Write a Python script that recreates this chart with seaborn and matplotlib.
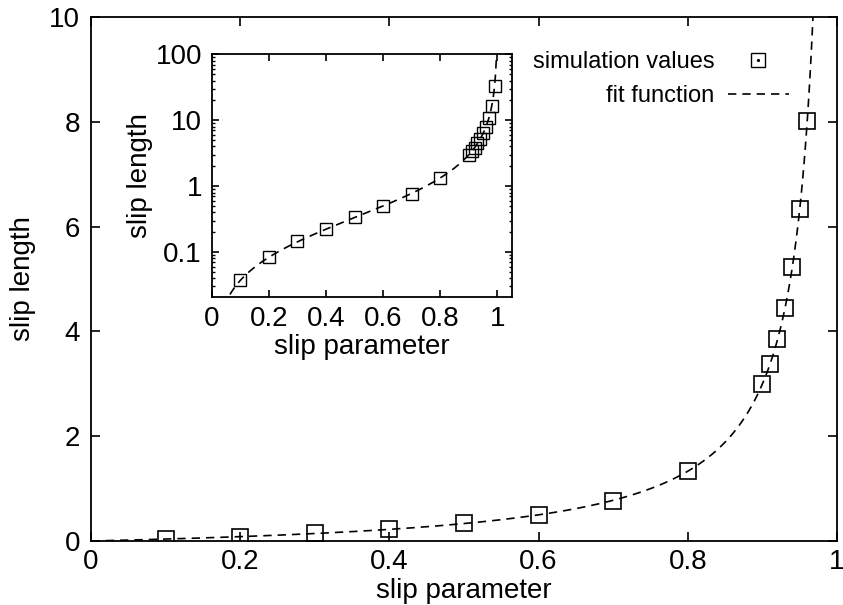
import numpy as np
import pandas as pd
import matplotlib
matplotlib.use("Agg")
import matplotlib.pyplot as plt
from matplotlib.lines import Line2D
import seaborn as sns

# ---- data ----
slip_param = [0.1, 0.2, 0.3, 0.4, 0.5, 0.6, 0.7, 0.8,
              0.90, 0.91, 0.92, 0.93, 0.94, 0.95, 0.96, 0.97, 0.98, 0.99]
slip_length = [0.037, 0.083, 0.145, 0.223, 0.336, 0.50, 0.77, 1.33,
               3.00, 3.37, 3.85, 4.44, 5.22, 6.33, 8.01, 10.8, 16.3, 33.0]
fit_coeff = 0.333            # fit: b = a * s / (1 - s)

main_xticks = [0, 0.2, 0.4, 0.6, 0.8, 1]
main_xticklabels = ["0", "0.2", "0.4", "0.6", "0.8", "1"]
main_yticks = [0, 2, 4, 6, 8, 10]
main_yticklabels = ["0", "2", "4", "6", "8", "10"]
inset_yticks = [0.1, 1, 10, 100]
inset_yticklabels = ["0.1", "1", "10", "100"]

sim = pd.DataFrame({"s": slip_param, "b": slip_length})
s_fit = np.linspace(0.0005, 0.9995, 4000)
fit = pd.DataFrame({"s": s_fit, "b": fit_coeff * s_fit / (1 - s_fit)})

sns.set_theme(style="ticks")
plt.rcParams["font.family"] = ["Liberation Sans", "DejaVu Sans"]
plt.rcParams["axes.linewidth"] = 1.3

W, H = 843, 605
fig = plt.figure(figsize=(W / 100, H / 100), dpi=100)
ax = fig.add_axes([91 / W, 1 - 541 / H, 746 / W, 524 / H])
ins = fig.add_axes([211.7 / W, 1 - 296.7 / H, 300 / W, 242.4 / H])

dash = (0, (5, 3.6))

def draw(a, ms, mew, lw):
    sns.lineplot(data=sim, x="s", y="b", ax=a, marker="s", linestyle="",
                 markersize=ms, markerfacecolor="none", markeredgecolor="black",
                 markeredgewidth=mew, color="black", errorbar=None, zorder=2)
    sns.lineplot(data=fit, x="s", y="b", ax=a, color="black", linewidth=lw,
                 linestyle=dash, errorbar=None, zorder=3)

draw(ax, 12, 1.2, 1.2)
draw(ins, 8.5, 1.0, 1.2)

# main axes
ax.set_xlim(0, 1)
ax.set_ylim(0, 10)
ax.set_xticks(main_xticks, main_xticklabels)
ax.set_yticks(main_yticks, main_yticklabels)
ax.tick_params(direction="in", length=6.5, width=1.2, labelsize=20,
               top=True, right=True, color="black", labelcolor="black")
ax.tick_params(axis="x", pad=6)
ax.tick_params(axis="y", pad=8)
ax.set_xlabel("slip parameter", fontsize=20, labelpad=2, color="black")
ax.set_ylabel("slip length", fontsize=20, labelpad=9, color="black")
for sp in ax.spines.values():
    sp.set_color("black")

# inset
ins.set_yscale("log")
ins.set_xlim(0, 1.05)
ins.set_ylim(0.021, 100)
ins.set_xticks(main_xticks, main_xticklabels)
ins.set_yticks(inset_yticks, inset_yticklabels)
ins.yaxis.set_minor_locator(matplotlib.ticker.LogLocator(base=10, subs=np.arange(2, 10)))
ins.yaxis.set_minor_formatter(matplotlib.ticker.NullFormatter())
ins.tick_params(direction="in", length=5, width=1.2, labelsize=20,
                top=True, right=True, color="black", labelcolor="black")
ins.tick_params(which="minor", direction="in", length=2.5, width=1.0,
                left=True, right=True, color="black")
ins.tick_params(axis="x", pad=7)
ins.tick_params(axis="y", pad=7)
ins.set_xlabel("slip parameter", fontsize=20, labelpad=1, color="black")
ins.set_ylabel("slip length", fontsize=20, labelpad=2, color="black")
for sp in ins.spines.values():
    sp.set_color("black")

# legend
h_sim = (Line2D([], [], marker="s", linestyle="", markersize=9.5,
                markerfacecolor="none", markeredgecolor="black", markeredgewidth=1.0),
         Line2D([], [], marker="o", linestyle="", markersize=1.3,
                markerfacecolor="black", markeredgecolor="black"))
h_fit = Line2D([], [], color="black", linewidth=1.2, linestyle=dash)
leg = ax.legend([h_sim, h_fit], ["simulation values", "fit function"],
                loc="upper right", bbox_to_anchor=(789 / W, 1 - 51 / H),
                bbox_transform=fig.transFigure, frameon=False, markerfirst=False,
                fontsize=17, handlelength=2.6, handletextpad=0.55,
                labelspacing=0.52, borderpad=0, borderaxespad=0)
leg._legend_box.align = "right"
for t in leg.get_texts():
    t.set_color("black")

fig.savefig("out.png", dpi=100)
